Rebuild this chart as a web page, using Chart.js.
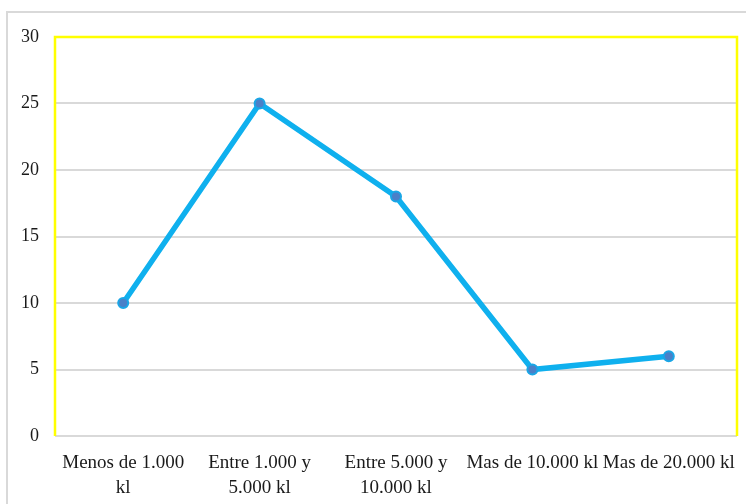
<!DOCTYPE html>
<html>
<head>
<meta charset="utf-8">
<script src="https://cdn.jsdelivr.net/npm/chart.js@4/dist/chart.umd.min.js"></script>
<style>
html,body{margin:0;padding:0;background:#fff;}
#wrap{width:746px;height:504px;position:relative;}
</style>
</head>
<body>
<div id="wrap"><canvas id="c" width="746" height="504"></canvas></div>
<script>
const categories = [
  ['Menos de 1.000', 'kl'],
  ['Entre 1.000 y', '5.000 kl'],
  ['Entre 5.000 y', '10.000 kl'],
  'Mas de 10.000 kl',
  'Mas de 20.000 kl'
];
const values = [10, 25, 18, 5, 6];
const yTicks = [0, 5, 10, 15, 20, 25, 30];

const frame = {
  id: 'frame',
  beforeDraw(chart) {
    const ctx = chart.ctx;
    ctx.save();
    ctx.strokeStyle = '#d9d9d9';
    ctx.lineWidth = 2;
    ctx.strokeRect(7, 12, 800, 600);
    ctx.restore();
  },
  beforeDatasetsDraw(chart) {
    const a = chart.chartArea, ctx = chart.ctx;
    ctx.save();
    ctx.strokeStyle = '#ffff00';
    ctx.lineWidth = 2.5;
    ctx.beginPath();
    ctx.moveTo(a.left, a.bottom);
    ctx.lineTo(a.left, a.top);
    ctx.lineTo(a.right, a.top);
    ctx.lineTo(a.right, a.bottom);
    ctx.stroke();
    ctx.restore();
  }
};

new Chart(document.getElementById('c'), {
  type: 'line',
  data: {
    labels: categories,
    datasets: [{
      data: values,
      borderColor: '#0fb0ee',
      borderWidth: 5.5,
      pointRadius: 5,
      pointHoverRadius: 5,
      pointBackgroundColor: '#4a80c8',
      pointBorderColor: '#1aa6e6',
      pointBorderWidth: 2,
      tension: 0
    }]
  },
  options: {
    responsive: false,
    animation: false,
    layout: { padding: { top: 37, right: 9, left: 0, bottom: 0 } },
    plugins: { legend: { display: false }, tooltip: { enabled: false } },
    scales: {
      x: {
        offset: true,
        grid: { display: false, drawTicks: false },
        border: { display: false },
        ticks: {
          autoSkip: false, maxRotation: 0, minRotation: 0, padding: 14,
          color: '#1a1a1a',
          font: { family: '"Liberation Serif", "Times New Roman", serif', size: 19, lineHeight: 1.32 }
        },
        afterFit(s) { s.height = 68; s.paddingLeft = 0; s.paddingRight = 0; }
      },
      y: {
        min: 0, max: 30,
        afterBuildTicks(s) { s.ticks = yTicks.map(v => ({ value: v })); },
        grid: { color: '#d9d9d9', lineWidth: 2, drawTicks: false },
        border: { display: false },
        ticks: {
          padding: 16,
          color: '#1a1a1a',
          font: { family: '"Liberation Serif", "Times New Roman", serif', size: 18 }
        },
        afterFit(s) { s.width = 55; }
      }
    }
  },
  plugins: [frame]
});
</script>
</body>
</html>
